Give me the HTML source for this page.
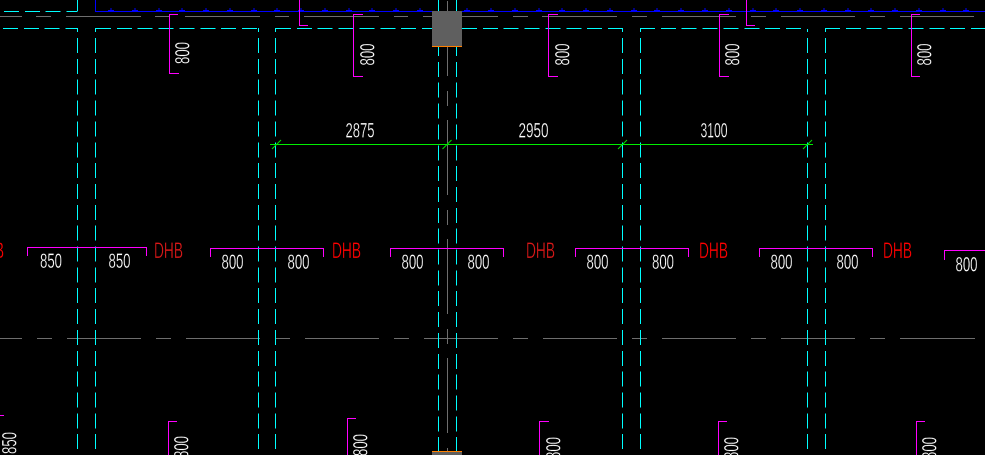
<!DOCTYPE html>
<html>
<head>
<meta charset="utf-8">
<style>
html,body{margin:0;padding:0;background:#000;width:985px;height:455px;overflow:hidden}
svg{display:block}
text{font-family:"Liberation Sans",sans-serif;font-size:21px;fill:#fff;stroke:#000;stroke-width:.3}
.r{fill:#f00;font-size:22px}
.d{fill:#d81818;font-size:22px}
.c{stroke:#00ffff;fill:none;stroke-width:1;stroke-dasharray:15 5.85}
.cs{stroke:#00ffff;fill:none;stroke-width:1}
.g{stroke:#6e6e6e;fill:none;stroke-width:1}
.m{stroke:#ff00ff;fill:none;stroke-width:1}
.b{stroke:#0000ff;fill:none;stroke-width:1}
</style>
</head>
<body>
<svg width="985" height="455" viewBox="0 0 985 455" xmlns="http://www.w3.org/2000/svg" shape-rendering="crispEdges">
<rect width="985" height="455" fill="#000"/>

<!-- gray horizontal center lines -->
<path class="g" d="M0 16.5H22M36 16.5H51M66 16.5H141M155 16.5H170M185 16.5H260M275 16.5H289M304 16.5H379M394 16.5H408M423 16.5H498M513 16.5H528M542 16.5H617M632 16.5H647M662 16.5H736M751 16.5H766M781 16.5H855M870 16.5H885M900 16.5H974"/>
<path class="g" d="M0 338.5H22M37 338.5H52M67 338.5H141M156 338.5H171M186 338.5H260M276 338.5H290M305 338.5H379M394 338.5H409M424 338.5H498M513 338.5H528M543 338.5H617M632 338.5H647M662 338.5H736M751 338.5H766M781 338.5H855M870 338.5H885M900 338.5H975"/>
<path class="g" d="M447.5 1V76M447.5 91V106M447.5 120V195M447.5 210V225M447.5 239V314M447.5 329V344M447.5 358V433M447.5 448V455"/>

<!-- top cyan -->
<path class="cs" d="M77.5 0V11.5" />
<line class="c" x1="4" y1="11.5" x2="77" y2="11.5"/>
<path class="cs" d="M438.5 0V11M456.5 0V11"/>

<!-- blue line -->
<path class="b" d="M95.5 0V11.5H985"/>
<path class="b" d="M108 10.500h6M111 8v3M132 10.500h6M135 8v3M156 10.500h6M159 8v3M179 10.500h6M182 8v3M203 10.500h6M206 8v3M227 10.500h6M230 8v3M251 10.500h6M254 8v3M274 10.500h6M277 8v3M298 10.500h6M301 8v3M322 10.500h6M325 8v3M346 10.500h6M349 8v3M369 10.500h6M372 8v3M393 10.500h6M396 8v3M417 10.500h6M420 8v3M464 10.500h6M467 8v3M488 10.500h6M491 8v3M512 10.500h6M515 8v3M536 10.500h6M539 8v3M559 10.500h6M562 8v3M583 10.500h6M586 8v3M607 10.500h6M610 8v3M631 10.500h6M634 8v3M654 10.500h6M657 8v3M678 10.500h6M681 8v3M702 10.500h6M705 8v3M726 10.500h6M729 8v3M750 10.500h6M753 8v3M773 10.500h6M776 8v3M797 10.500h6M800 8v3M821 10.500h6M824 8v3M845 10.500h6M848 8v3M868 10.500h6M871 8v3M892 10.500h6M895 8v3M916 10.500h6M919 8v3M940 10.500h6M943 8v3M963 10.500h6M966 8v3"/>

<!-- cyan horizontal at y=28 -->
<line class="c" x1="3" y1="28.500" x2="77" y2="28.500"/>
<line class="c" x1="96" y1="28.500" x2="258" y2="28.500"/>
<line class="c" x1="276" y1="28.500" x2="432" y2="28.500"/>
<line class="c" x1="462" y1="28.500" x2="622" y2="28.500"/>
<line class="c" x1="640" y1="28.500" x2="802" y2="28.500"/>
<line class="c" x1="825" y1="28.500" x2="985" y2="28.500"/>

<!-- cyan vertical stubs -->
<path class="cs" d="M77.500 28V32M95.500 28V32M258.500 28V32M275.500 28V32M622.500 28V32M640.500 28V32M807.500 29V32M825.500 28V32"/>

<!-- cyan vertical dashed -->
<line class="c" x1="77.500" y1="38" x2="77.500" y2="455"/>
<line class="c" x1="95.500" y1="38" x2="95.500" y2="455"/>
<line class="c" x1="258.500" y1="38" x2="258.500" y2="455"/>
<line class="c" x1="275.500" y1="38" x2="275.500" y2="455"/>
<line class="c" x1="438.500" y1="41" x2="438.500" y2="455"/>
<line class="c" x1="456.500" y1="41" x2="456.500" y2="455"/>
<line class="c" x1="622.500" y1="38" x2="622.500" y2="455"/>
<line class="c" x1="640.500" y1="38" x2="640.500" y2="455"/>
<line class="c" x1="807.500" y1="38" x2="807.500" y2="455"/>
<line class="c" x1="825.500" y1="38" x2="825.500" y2="455"/>

<!-- gray boxes -->
<rect x="432" y="11" width="30" height="35" fill="#5f5f5f"/>
<rect x="432" y="46" width="30" height="1" fill="#ff8000"/>
<rect x="432" y="451" width="30" height="4" fill="#5f5f5f"/>
<rect x="432" y="451" width="30" height="1" fill="#ff8000"/>

<!-- magenta top brackets -->
<path class="m" d="M178 14.500H169.500V73.500H179"/>
<path class="m" d="M363 14.500H353.500V76.500H363"/>
<path class="m" d="M558 14.500H548.500V76.500H558"/>
<path class="m" d="M729 14.500H719.500V76.500H729"/>
<path class="m" d="M920 14.500H911.500V76.500H920"/>
<path class="m" d="M299.500 0V25.500H308"/>
<path class="m" d="M746.500 0V25.500H755"/>

<!-- magenta horizontal brackets -->
<path class="m" d="M27.500 256V247.500H146.500V256"/>
<path class="m" d="M210.500 257V248.500H323.500V257"/>
<path class="m" d="M390.500 257V248.500H503.500V257"/>
<path class="m" d="M575.500 257V248.500H688.500V257"/>
<path class="m" d="M759.500 257V248.500H872.500V257"/>
<path class="m" d="M944.500 260V250.500H985"/>

<!-- magenta bottom brackets -->
<path class="m" d="M0 415.500H4"/>
<path class="m" d="M177 421.500H168.500V455"/>
<path class="m" d="M356 418.500H347.500V455"/>
<path class="m" d="M549 421.500H539.500V455"/>
<path class="m" d="M727 421.500H718.500V455"/>
<path class="m" d="M925 421.500H916.500V455"/>

<!-- green dimension -->
<path stroke="#00ee00" fill="none" d="M270 144.500H813"/>
<g shape-rendering="auto" stroke="#00e000" stroke-width="1" fill="none">
<path d="M272 149L281 140M442.500 149L451.500 140M618 149L627 140M803 149L812 140"/>
</g>

<g shape-rendering="auto">
<!-- dimension labels -->
<text x="345.500" y="137.500" textLength="29" lengthAdjust="spacingAndGlyphs">2875</text>
<text x="518.500" y="137.500" textLength="30" lengthAdjust="spacingAndGlyphs">2950</text>
<text x="700.500" y="137.500" textLength="27" lengthAdjust="spacingAndGlyphs">3100</text>

<!-- DHB labels -->
<text class="r" x="-25" y="258" textLength="29" lengthAdjust="spacingAndGlyphs">DHB</text>
<text class="d" x="154" y="258" textLength="29" lengthAdjust="spacingAndGlyphs">DHB</text>
<text class="r" x="332" y="258" textLength="29" lengthAdjust="spacingAndGlyphs">DHB</text>
<text class="d" x="526" y="258" textLength="29" lengthAdjust="spacingAndGlyphs">DHB</text>
<text class="r" x="699" y="258" textLength="29" lengthAdjust="spacingAndGlyphs">DHB</text>
<text class="r" x="883" y="258" textLength="29" lengthAdjust="spacingAndGlyphs">DHB</text>

<!-- horizontal numbers -->
<text x="40" y="268" textLength="22" lengthAdjust="spacingAndGlyphs">850</text>
<text x="108.500" y="268" textLength="22" lengthAdjust="spacingAndGlyphs">850</text>
<text x="221.500" y="269" textLength="22" lengthAdjust="spacingAndGlyphs">800</text>
<text x="287.500" y="269" textLength="22" lengthAdjust="spacingAndGlyphs">800</text>
<text x="401.500" y="269" textLength="22" lengthAdjust="spacingAndGlyphs">800</text>
<text x="467.500" y="269" textLength="22" lengthAdjust="spacingAndGlyphs">800</text>
<text x="586.500" y="269" textLength="22" lengthAdjust="spacingAndGlyphs">800</text>
<text x="652" y="269" textLength="22" lengthAdjust="spacingAndGlyphs">800</text>
<text x="770.500" y="269" textLength="22" lengthAdjust="spacingAndGlyphs">800</text>
<text x="836.500" y="269" textLength="22" lengthAdjust="spacingAndGlyphs">800</text>
<text x="955.500" y="271.500" textLength="22" lengthAdjust="spacingAndGlyphs">800</text>

<!-- vertical numbers top -->
<text transform="translate(189.500,64) rotate(-90)" textLength="22" lengthAdjust="spacingAndGlyphs">800</text>
<text transform="translate(374.500,65.500) rotate(-90)" textLength="22" lengthAdjust="spacingAndGlyphs">800</text>
<text transform="translate(569.500,65.500) rotate(-90)" textLength="22" lengthAdjust="spacingAndGlyphs">800</text>
<text transform="translate(739.500,65.500) rotate(-90)" textLength="22" lengthAdjust="spacingAndGlyphs">800</text>
<text transform="translate(931.500,65.500) rotate(-90)" textLength="22" lengthAdjust="spacingAndGlyphs">800</text>

<!-- vertical numbers bottom -->
<text transform="translate(16.500,454) rotate(-90)" textLength="22" lengthAdjust="spacingAndGlyphs">850</text>
<text transform="translate(188.500,458) rotate(-90)" textLength="22" lengthAdjust="spacingAndGlyphs">800</text>
<text transform="translate(367.500,456) rotate(-90)" textLength="22" lengthAdjust="spacingAndGlyphs">800</text>
<text transform="translate(560.500,459) rotate(-90)" textLength="22" lengthAdjust="spacingAndGlyphs">800</text>
<text transform="translate(738.500,459) rotate(-90)" textLength="22" lengthAdjust="spacingAndGlyphs">800</text>
<text transform="translate(936.500,459) rotate(-90)" textLength="22" lengthAdjust="spacingAndGlyphs">800</text>
</g>
</svg>
</body>
</html>
